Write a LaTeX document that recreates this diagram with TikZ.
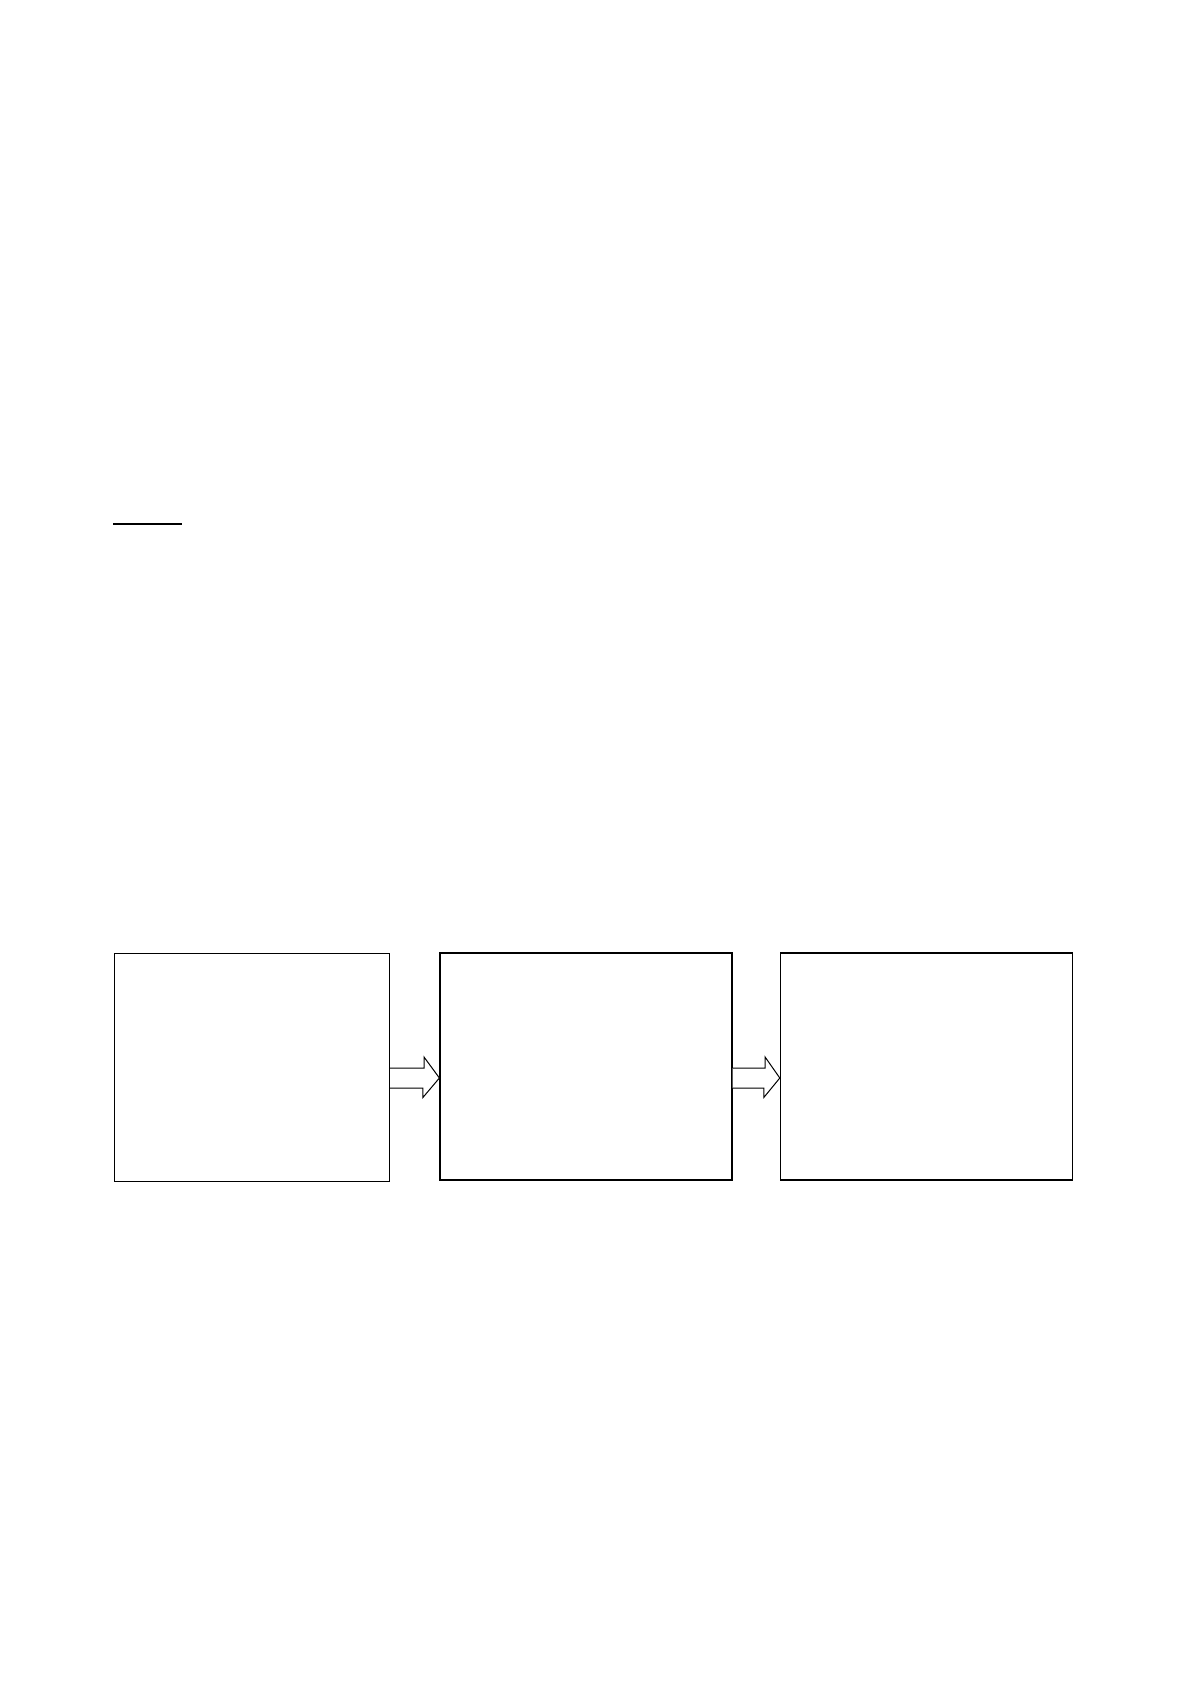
\documentclass[tikz,border=0pt]{standalone}
\usepackage{tikz}
\usetikzlibrary{calc}

\begin{document}
\begin{tikzpicture}[
		x=0.5pt,y=-0.5pt,
		box/.style={draw,thick,line width=0.6pt,inner sep=0pt,minimum width=146pt,minimum height=113.5pt},
		blockarrow/.style={draw,line width=0.5pt,fill=white,line join=miter}
		]
		\useasboundingbox (0,0) rectangle (1190,1684);
		% manual positions
		\draw[line width=1pt] (113,524) -- (182,524);
		
		\node[box,line width=0.5pt,minimum width=137.75pt,minimum height=114pt] (b1) at (251.75,1067.2) {};
		\node[box] (b2) at (586,1066.5) {};
		\node[box] (b3) at (926.4,1066.5) {};
		
		% arrows
		\draw[blockarrow] (b1.east |- 0,1068) -| ++(34,-11) -- (b2.west |- 0,1078)
			-- ++(-16.5,19.5) -- ++(0,-9.5) -- (b1.east |- 0,1088);
		\draw[blockarrow] (b2.east |- 0,1068) -| ++(32.5,-11) -- (b3.west |- 0,1078)
			-- ++(-16,19.5) -- ++(0,-9.5) -- (b2.east |- 0,1088);
	\end{tikzpicture}
\end{document}
